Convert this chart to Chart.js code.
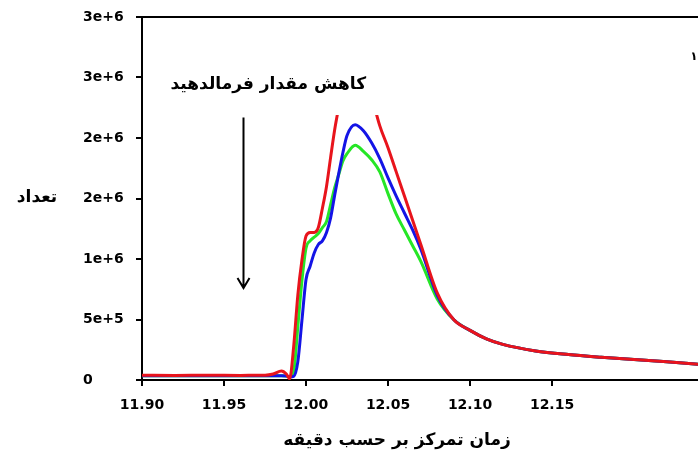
<!DOCTYPE html>
<html><head><meta charset="utf-8">
<script src="https://cdn.jsdelivr.net/npm/chart.js@4.4.0/dist/chart.umd.min.js"></script>
<style>html,body{margin:0;padding:0;background:#fff}#wrap{width:698px;height:461px}</style>
</head><body><div id="wrap"><canvas id="c" width="698" height="461"></canvas></div>
<script>
const times = [11.90, 11.92, 11.94, 11.96, 11.97, 11.975, 11.98, 11.985, 11.988, 11.990, 11.9925, 11.995, 11.9975,
  12.000, 12.0025, 12.005, 12.0075, 12.010, 12.0125, 12.015, 12.0175, 12.020, 12.0225, 12.025, 12.030, 12.035,
  12.040, 12.045, 12.050, 12.055, 12.060, 12.065, 12.070, 12.080, 12.090, 12.100, 12.110, 12.120, 12.140, 12.160,
  12.180, 12.200, 12.220, 12.240];
const redValues = [40000, 38000, 40000, 38000, 40000, 40000, 50000, 75000, 50000, 10000, 280000, 700000, 990000,
  1190000, 1220000, 1220000, 1260000, 1420000, 1600000, 1840000, 2070000, 2260000, 2450000, 2600000, 2700000, 2600000,
  2350000, 2100000, 1920000, 1720000, 1520000, 1320000, 1120000, 720000, 500000, 410000, 340000, 294000, 240000, 210000,
  188000, 169000, 150000, 130000];
const blueValues = [35000, 35000, 35000, 35000, 35000, 35000, 35000, 35000, 33000, 25000, 30000, 150000, 490000,
  830000, 940000, 1050000, 1120000, 1150000, 1220000, 1340000, 1530000, 1710000, 1880000, 2020000, 2110000, 2060000,
  1960000, 1830000, 1670000, 1520000, 1380000, 1240000, 1080000, 700000, 500000, 410000, 340000, 294000, 240000, 210000,
  188000, 169000, 150000, 130000];
const greenValues = [35000, 35000, 35000, 35000, 35000, 35000, 35000, 35000, 33000, 25000, 70000, 440000, 820000,
  1090000, 1150000, 1180000, 1210000, 1260000, 1310000, 1450000, 1590000, 1700000, 1810000, 1870000, 1940000, 1890000,
  1820000, 1720000, 1540000, 1370000, 1240000, 1110000, 980000, 670000, 500000, 410000, 340000, 294000, 240000, 210000,
  188000, 169000, 150000, 130000];
const xTickValues = [11.90, 11.95, 12.00, 12.05, 12.10, 12.15];
const xTickLabels = ['11.90', '11.95', '12.00', '12.05', '12.10', '12.15'];
const yTickValues = [0, 500000, 1000000, 1500000, 2000000, 2500000, 3000000];
const yTickLabels = ['0', '5e+5', '1e+6', '2e+6', '2e+6', '3e+6', '3e+6'];
const xAxisTitle = 'زمان تمرکز بر حسب دقیقه';
const yAxisTitle = 'تعداد';
const annotationText = 'كاهش مقدار فرمالدهید';
const legendFragment = '۱';

const FONT = 'DejaVu Sans';
const pts = vals => times.map((t, i) => ({x: t, y: vals[i]}));

const decor = {
  id: 'decor',
  afterDatasetsDraw(chart) {
    const {ctx, scales: {x, y}} = chart;
    ctx.save();
    // white background of the annotation label
    const x0 = x.getPixelForValue(11.912), x1 = x.getPixelForValue(12.052);
    const y0 = y.getPixelForValue(2970000), y1 = y.getPixelForValue(2190000);
    ctx.fillStyle = '#fff';
    ctx.fillRect(x0, y0, x1 - x0, y1 - y0);
    // label
    ctx.fillStyle = '#000';
    ctx.font = 'bold 17px "' + FONT + '"';
    ctx.textAlign = 'center';
    ctx.textBaseline = 'middle';
    ctx.fillText(annotationText, x.getPixelForValue(11.977), y.getPixelForValue(2440000));
    // arrow
    const ax = Math.round(x.getPixelForValue(11.9616)) + 0.5;
    const ay0 = y.getPixelForValue(2170000), ay1 = y.getPixelForValue(760000);
    ctx.strokeStyle = '#000';
    ctx.lineWidth = 2;
    ctx.beginPath();
    ctx.moveTo(ax, ay0); ctx.lineTo(ax, ay1);
    ctx.moveTo(ax - 6, ay1 - 10); ctx.lineTo(ax, ay1); ctx.lineTo(ax + 6, ay1 - 10);
    ctx.stroke();
    ctx.restore();
  },
  afterDraw(chart) {
    const {ctx, chartArea: a} = chart;
    ctx.save();
    ctx.strokeStyle = '#000';
    ctx.lineWidth = 2;
    ctx.beginPath();
    ctx.moveTo(a.left - 1, a.top); ctx.lineTo(a.right, a.top);
    ctx.stroke();
    ctx.fillStyle = '#000';
    ctx.textAlign = 'center';
    ctx.textBaseline = 'middle';
    ctx.font = 'bold 17px "' + FONT + '"';
    ctx.fillText(yAxisTitle, 37, 198);
    ctx.font = 'bold 17px "' + FONT + '"';
    ctx.fillText(xAxisTitle, 397, 441);
    ctx.font = 'bold 12px "' + FONT + '"';
    ctx.fillText(legendFragment, 694, 57);
    ctx.restore();
  }
};

new Chart(document.getElementById('c'), {
  type: 'line',
  data: {
    datasets: [
      {label: 'red', data: pts(redValues), borderColor: '#e8141c', borderWidth: 3, pointRadius: 0, cubicInterpolationMode: 'monotone'},
      {label: 'blue', data: pts(blueValues), borderColor: '#1414e6', borderWidth: 3, pointRadius: 0, cubicInterpolationMode: 'monotone'},
      {label: 'green', data: pts(greenValues), borderColor: '#26e626', borderWidth: 3, pointRadius: 0, cubicInterpolationMode: 'monotone'}
    ]
  },
  options: {
    responsive: false,
    animation: false,
    devicePixelRatio: 1,
    layout: {padding: {top: 17, right: 0, left: 83, bottom: 0}},
    plugins: {legend: {display: false}, tooltip: {enabled: false}},
    scales: {
      x: {
        type: 'linear', min: 11.90, max: 12.239,
        afterBuildTicks: s => { s.ticks = xTickValues.map(v => ({value: v})); },
        afterFit: s => { s.height = 81; s.paddingLeft = 0; s.paddingRight = 0; },
        ticks: {callback: (v, i) => xTickLabels[i], color: '#000', font: {family: FONT, size: 14, weight: 'bold'}, maxRotation: 0, autoSkip: false, padding: 11},
        grid: {drawOnChartArea: false, tickLength: 6, color: '#000', lineWidth: 2},
        border: {color: '#000', width: 2}
      },
      y: {
        min: 0, max: 3000000,
        afterBuildTicks: s => { s.ticks = yTickValues.map(v => ({value: v})); },
        afterFit: s => { s.width = 59; s.paddingTop = 0; s.paddingBottom = 0; },
        ticks: {callback: (v, i) => yTickLabels[i], color: '#000', font: {family: FONT, size: 14, weight: 'bold'}, padding: 12, crossAlign: 'far'},
        grid: {drawOnChartArea: false, tickLength: 6, color: '#000', lineWidth: 2},
        border: {color: '#000', width: 2}
      }
    }
  },
  plugins: [decor]
});
</script></body></html>
